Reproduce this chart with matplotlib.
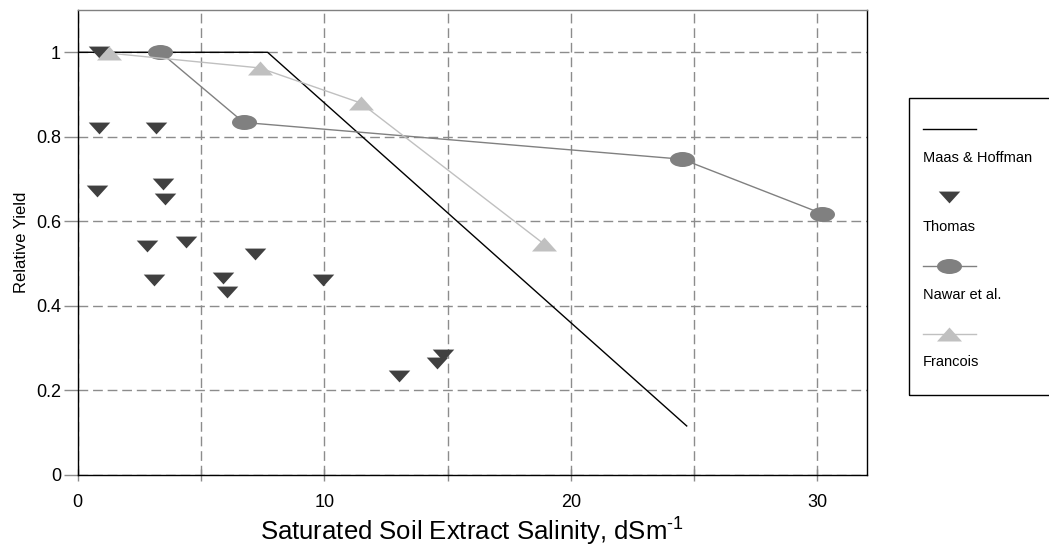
import matplotlib
matplotlib.use("Agg")
import matplotlib.pyplot as plt
from matplotlib.path import Path
from matplotlib.transforms import Affine2D
from matplotlib.patches import Rectangle
from matplotlib.ticker import FuncFormatter, MultipleLocator

plt.rcParams["font.family"] = ["Liberation Sans", "DejaVu Sans"]
plt.rcParams["mathtext.fontset"] = "custom"
plt.rcParams["mathtext.rm"] = "Liberation Sans"
plt.rcParams["mathtext.it"] = "Liberation Sans:italic"

# ----------------------
# DATA
# ----------------------
maas_x = [0, 7.7, 24.7]
maas_y = [1.0, 1.0, 0.116]

thomas_x = [0.85, 0.88, 3.18, 0.77, 3.44, 3.54, 2.80, 4.38, 7.21, 3.10,
            5.89, 6.07, 9.93, 13.02, 14.59, 14.81]
thomas_y = [1.0, 0.822, 0.822, 0.672, 0.688, 0.652, 0.542, 0.552, 0.523, 0.461,
            0.467, 0.433, 0.461, 0.233, 0.264, 0.284]

nawar_x = [3.35, 6.73, 24.52, 30.2]
nawar_y = [1.0, 0.834, 0.747, 0.618]

francois_x = [1.27, 7.38, 11.48, 18.9]
francois_y = [0.998, 0.963, 0.880, 0.547]

labels = ["Maas & Hoffman", "Thomas", "Nawar et al.", "Francois"]

# ----------------------
# MARKERS (flattened shapes)
# ----------------------
tri_down = [(-1, 0.55), (1, 0.55), (0, -0.55), (-1, 0.55)]
tri_up = [(-1, -0.56), (1, -0.56), (0, 0.56), (-1, -0.56)]
ellipse = Affine2D().scale(1, 0.6).transform_path(Path.unit_circle())

C_THOMAS = "#404040"
C_NAWAR = "#808080"
C_FRAN = "#c0c0c0"
GRID = "#8c8c8c"

fig = plt.figure(figsize=(10.49, 5.56), dpi=100)
ax = fig.add_axes([0.0741, 0.1457, 0.7521, 0.8363])

ax.plot(maas_x, maas_y, color="black", lw=1.0, zorder=3)
ax.plot(thomas_x, thomas_y, ls="none", marker=tri_down, ms=15.5,
        color=C_THOMAS, mec="none", zorder=4)
ax.plot(nawar_x, nawar_y, color=C_NAWAR, lw=1.0, marker=ellipse, ms=18,
        mfc=C_NAWAR, mec="none", zorder=4)
ax.plot(francois_x, francois_y, color=C_FRAN, lw=1.0, marker=tri_up, ms=18,
        mfc=C_FRAN, mec="none", zorder=4)

ax.set_xlim(0, 32)
ax.set_ylim(0, 1.1)
ax.xaxis.set_major_locator(MultipleLocator(5))
ax.yaxis.set_major_locator(MultipleLocator(0.2))
ax.xaxis.set_major_formatter(FuncFormatter(lambda v, p: f"{v:g}" if round(v) % 10 == 0 else ""))
ax.yaxis.set_major_formatter(FuncFormatter(lambda v, p: f"{v:g}"))

ax.grid(True, color=GRID, lw=1.0, linestyle=(0, (7, 3.5)))
ax.set_axisbelow(True)

ax.tick_params(axis="y", direction="out", length=10, width=1, color=GRID,
               labelsize=13, pad=2)
ax.tick_params(axis="x", direction="inout", length=9, width=1, color=GRID,
               labelsize=13, pad=9)

for side in ["left", "bottom", "right"]:
    ax.spines[side].set_color("black")
    ax.spines[side].set_linewidth(1.0)
ax.spines["top"].set_color("#808080")
ax.spines["top"].set_linewidth(1.0)

ax.set_ylabel("Relative Yield", fontsize=12, labelpad=5)
ax.set_xlabel(r"Saturated Soil Extract Salinity, dSm$^{\text{-1}}$", fontsize=18.5, labelpad=4)

# ----------------------
# LEGEND (handles stacked above labels)
# ----------------------
lax = fig.add_axes([0.8665, 0.2896, 0.2, 0.5347])
lax.set_xlim(0, 1)
lax.set_ylim(0, 1)
lax.axis("off")
lax.add_patch(Rectangle((0, 0), 1, 1, transform=lax.transAxes, fill=False,
                        ec="black", lw=1.0, clip_on=False))

hx = [0.065, 0.319]
mx = 0.19
line_y = [0.894, 0.666, 0.434, 0.205]
text_y = [0.797, 0.565, 0.336, 0.111]

lax.plot(hx, [line_y[0]] * 2, color="black", lw=1.0)
lax.plot([mx], [line_y[1]], marker=tri_down, ms=15.5, color=C_THOMAS, mec="none")
lax.plot(hx, [line_y[2]] * 2, color=C_NAWAR, lw=1.0)
lax.plot([mx], [line_y[2]], marker=ellipse, ms=18, color=C_NAWAR, mec="none")
lax.plot(hx, [line_y[3]] * 2, color=C_FRAN, lw=1.0)
lax.plot([mx], [line_y[3]], marker=tri_up, ms=18, color=C_FRAN, mec="none")

for lab, ty in zip(labels, text_y):
    lax.text(hx[0], ty, lab, fontsize=10.5, va="center", ha="left")

fig.savefig("out.png", dpi=100)
